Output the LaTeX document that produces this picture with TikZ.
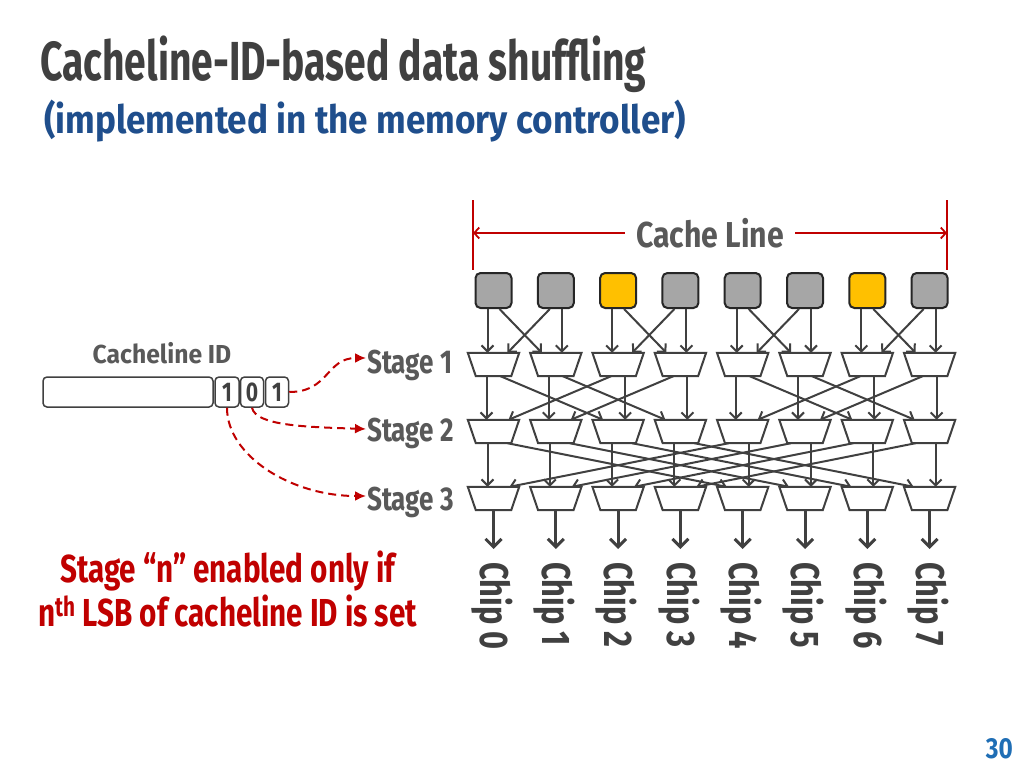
\documentclass[tikz,border=0pt]{standalone}
\usepackage{fontspec}
\usetikzlibrary{arrows.meta,calc}
\newfontfamily\fTitle{Fira Sans}[FakeStretch=0.71]
\newfontfamily\fSub{Fira Sans}[FakeStretch=0.90]
\newfontfamily\fCL{Fira Sans}[FakeStretch=0.84]
\newfontfamily\fStage{Fira Sans}[FakeStretch=0.79]
\newfontfamily\fCid{Fira Sans}[FakeStretch=0.95]
\newfontfamily\fNote{Fira Sans}[FakeStretch=0.76]
\newfontfamily\fChip{Fira Sans}[FakeStretch=0.77]
\newfontfamily\fPage{Fira Sans}[FakeStretch=0.84]
\newfontfamily\fBit{Fira Sans}[FakeStretch=0.78]
\definecolor{tgray}{HTML}{404040}
\definecolor{lgray}{HTML}{595959}
\definecolor{wgray}{HTML}{404040}
\definecolor{sqborder}{HTML}{262626}
\definecolor{sqgray}{HTML}{A6A6A6}
\definecolor{sqyellow}{HTML}{FFC000}
\definecolor{subblue}{HTML}{1F4E8C}
\definecolor{pageblue}{HTML}{1F6EB5}
\definecolor{myred}{HTML}{C00000}
\tikzset{
  txt/.style={inner sep=0pt},
  sqbox/.style={draw=sqborder, line width=2pt, rounded corners=5pt, minimum width=36pt, minimum height=35pt, inner sep=0pt},
  muxbox/.style={minimum width=51pt, minimum height=23pt, inner sep=0pt},
  muxline/.style={draw=wgray, line width=2pt, fill=white, line join=miter},
  wire/.style={draw=wgray, line width=2pt, -{Straight Barb[length=6pt,width=12pt]}},
  outwire/.style={draw=wgray, line width=3pt, -{Straight Barb[length=8pt,width=16pt]}},
  bitbox/.style={draw=wgray, line width=1.5pt, rounded corners=4pt, minimum height=30pt, inner sep=0pt},
  redlink/.style={draw=myred, line width=2pt, dash pattern=on 8pt off 5pt, -{Latex[length=11pt,width=10pt]}},
  redline/.style={draw=myred, line width=1.8pt},
  redarrow/.style={draw=myred, line width=1.8pt, -{Straight Barb[length=5pt,width=11pt]}},
  stagelbl/.style={txt, anchor=base west, text=lgray, font=\fStage\bfseries\fontsize{33}{36}\selectfont},
  bitlbl/.style={bitbox, text=tgray, font=\fBit\bfseries\fontsize{27}{30}\selectfont},
  notelbl/.style={txt, anchor=base, text=myred, font=\fNote\bfseries\fontsize{39}{44}\selectfont},
}
\begin{document}
\begin{tikzpicture}[x=1pt,y=-1pt]
\useasboundingbox[fill=white] (0,0) rectangle (1024,768);

% titles
\node[txt, anchor=base west, text=tgray, font=\fTitle\bfseries\fontsize{55}{60}\selectfont] (title) at (40,80) {Cacheline-ID-based data shuffling};
\node[txt, anchor=base west, text=subblue, font=\fSub\bfseries\fontsize{39}{44}\selectfont] (subtitle) at (44,133) {(implemented in the memory controller)};

% cache line dimension
\node[txt, anchor=base, text=lgray, font=\fCL\bfseries\fontsize{36}{40}\selectfont] (cl) at (710,247) {Cache Line};
\coordinate (vlt) at (473,200); \coordinate (vlb) at (473,270);
\coordinate (vrt) at (947,200); \coordinate (vrb) at (947,270);
\coordinate (vl) at (473,233); \coordinate (vr) at (947,233);
\coordinate (clw) at ([xshift=-11pt]cl.west);
\coordinate (cle) at ([xshift=11pt]cl.east);
\draw[redline] (vlt) -- (vlb);
\draw[redline] (vrt) -- (vrb);
\draw[redarrow] (clw |- vl) -- (vl);
\draw[redarrow] (cle |- vr) -- (vr);

% squares and muxes
\foreach \i in {0,...,7}{
  \pgfmathsetmacro{\x}{493.5+62.3*\i}
  \ifnum\i=2 \def\fc{sqyellow}\else\ifnum\i=6 \def\fc{sqyellow}\else\def\fc{sqgray}\fi\fi
  \node[sqbox, fill=\fc] (s\i) at (\x,290.5) {};
  \node[muxbox] (a\i) at (\x,364.5) {};
  \node[muxbox] (b\i) at (\x,431.5) {};
  \node[muxbox] (c\i) at (\x,498.5) {};
  \node[txt, text=tgray, font=\fChip\bfseries\fontsize{40}{44}\selectfont, rotate=-90, anchor=west] (chip\i) at (\x-1.5,562) {Chip \i};
}

% wires between stages
\foreach \src/\dst/\d/\v/\ds/\de in {s/a/1/6/6/14, a/b/2/7/7/15, b/c/4/6/14/16}{
  \foreach \i in {0,...,7}{
    \pgfmathtruncatemacro{\p}{mod(floor(\i/\d),2)==0 ? \i+\d : \i-\d}
    \pgfmathsetmacro{\s}{\i<\p ? 1 : -1}
    \pgfmathsetmacro{\vx}{-\s*\v}
    \pgfmathsetmacro{\sx}{\s*\ds}
    \pgfmathsetmacro{\ex}{-\s*\de}
    \draw[wire] ([xshift=\vx pt]\src\i.south) -- ([xshift=\vx pt]\dst\i.north);
    \draw[wire] ([xshift=\sx pt]\src\i.south) -- ([xshift=\ex pt]\dst\p.north);
  }
}

% mux trapezoids
\foreach \m in {a,b,c}{
  \foreach \i in {0,...,7}{
    \draw[muxline] (\m\i.north west) -- (\m\i.north east) -- ([xshift=-8pt]\m\i.south east) -- ([xshift=8pt]\m\i.south west) -- cycle;
  }
}

% outputs
\foreach \i in {0,...,7}{
  \draw[outwire] (c\i.south) -- ($(c\i.south |- chip\i.west)+(0,-13)$);
}

% stage labels
\node[stagelbl] (st1) at (367,373) {Stage 1};
\node[stagelbl] (st2) at (367,441) {Stage 2};
\node[stagelbl] (st3) at (367,510) {Stage 3};
\coordinate (t1) at ($(st1.base west)+(-1,-15)$);
\coordinate (t2) at ($(st2.base west)+(-1,-12)$);
\coordinate (t3) at ($(st3.base west)+(-1,-14)$);

% cacheline id
\node[txt, anchor=base, text=lgray, font=\fCid\bfseries\fontsize{26}{30}\selectfont] (cidlabel) at (162,363) {Cacheline ID};
\node[bitbox, minimum width=170pt] (cid) at (128,392) {};
\node[bitlbl, minimum width=24pt] (bit2) at (227,392) {1};
\node[bitlbl, minimum width=23pt] (bit1) at (252,392) {0};
\node[bitlbl, minimum width=23pt] (bit0) at (277,392) {1};

\draw[redlink] (bit0.east) .. controls ($(bit0.east)+(40,0)$) and ($(t1)+(-40,0)$) .. (t1);
\draw[redlink] (bit1.south) .. controls ($(bit1.south)+(4,18)$) and ($(t2)+(-60,-2)$) .. (t2);
\draw[redlink] (bit2.south) .. controls ($(bit2.south)+(0,48)$) and ($(t3)+(-75,0)$) .. (t3);

% red note
\node[notelbl] (note1) at (227.5,582) {Stage “n” enabled only if};
\node[notelbl] (note2) at (227.5,626) {n\textsuperscript{th} LSB of cacheline ID is set};

% page number
\node[txt, anchor=base east, text=pageblue, font=\fPage\bfseries\fontsize{29}{32}\selectfont] (page) at (1013,758) {30};
\end{tikzpicture}
\end{document}
